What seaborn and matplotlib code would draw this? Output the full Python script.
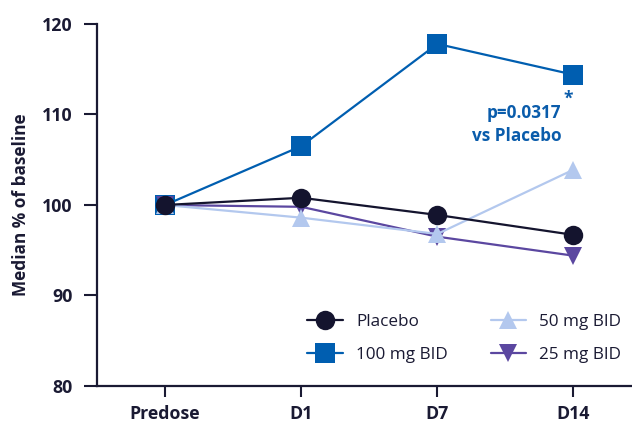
import matplotlib
matplotlib.use("Agg")
import matplotlib.pyplot as plt
import seaborn as sns
import pandas as pd
from matplotlib.lines import Line2D

# ---- data ----
timepoints = ["Predose", "D1", "D7", "D14"]
placebo = [100.0, 100.8, 98.9, 96.7]
mg100 = [100.0, 106.5, 117.8, 114.4]
mg50 = [100.0, 98.6, 96.8, 103.9]
mg25 = [100.0, 99.8, 96.5, 94.4]
series_names = ["Placebo", "100 mg BID", "50 mg BID", "25 mg BID"]
y_ticks = [80, 90, 100, 110, 120]
annotation_lines = ["*", "p=0.0317", "vs Placebo"]

colors = {"Placebo": "#14142e", "100 mg BID": "#005eb0",
          "50 mg BID": "#b3c8ee", "25 mg BID": "#5b47a0"}
markers = {"Placebo": "o", "100 mg BID": "s", "50 mg BID": "^", "25 mg BID": "v"}
msizes = {"Placebo": 14, "100 mg BID": 14, "50 mg BID": 13, "25 mg BID": 13}

values = {"Placebo": placebo, "100 mg BID": mg100, "50 mg BID": mg50, "25 mg BID": mg25}
rows = []
for name in series_names:
    for i, (t, v) in enumerate(zip(timepoints, values[name])):
        rows.append({"series": name, "pos": i, "time": t, "value": v})
df = pd.DataFrame(rows)

sns.set_theme(style="ticks")
plt.rcParams["font.family"] = ["Open Sans", "DejaVu Sans"]

fig = plt.figure(figsize=(6.32, 4.25), dpi=100)
ax = fig.add_axes([97/632, 1-386/425, 1-97/632, (386-24)/425])

axis_col = "#1a1a33"
draw_order = ["100 mg BID", "25 mg BID", "50 mg BID", "Placebo"]
for name in draw_order:
    sub = df[df["series"] == name]
    sns.lineplot(data=sub, x="pos", y="value", ax=ax, color=colors[name],
                 marker=markers[name], markersize=msizes[name],
                 markeredgewidth=0, linewidth=1.6, legend=False)

ax.set_xlim(-0.5, 3.43)
ax.set_ylim(80, 120)
ax.set_xticks(range(len(timepoints)))
ax.set_xticklabels(timepoints)
ax.set_yticks(y_ticks)
ax.set_xlabel("")
ax.set_ylabel("Median % of baseline", fontsize=12.4, fontweight="bold",
              color=axis_col, labelpad=9)
for lab in ax.get_xticklabels() + ax.get_yticklabels():
    lab.set_fontweight("bold")
    lab.set_fontsize(12.8)
    lab.set_color(axis_col)
ax.tick_params(axis="y", length=9.5, width=1.5, color=axis_col, pad=8)
ax.tick_params(axis="x", length=8, width=1.5, color=axis_col, pad=6)
sns.despine(ax=ax)
for s in ["left", "bottom"]:
    ax.spines[s].set_color(axis_col)
    ax.spines[s].set_linewidth(1.6)

# annotation
ax.text(3.0, 111.7, annotation_lines[0], ha="right", va="center",
        fontsize=12.5, fontweight="bold", color="#0a5cab")
ax.text(2.91, 108.9, annotation_lines[1] + "\n" + annotation_lines[2], ha="right",
        va="center", fontsize=12.3, fontweight="bold", color="#0a5cab",
        linespacing=1.3)

handles = [Line2D([], [], color=colors[n], marker=markers[n], markersize=msizes[n],
                  markeredgewidth=0, linewidth=1.6) for n in series_names]
leg = ax.legend(handles, series_names, ncol=2, frameon=False, fontsize=12.3,
                loc="upper left", bbox_to_anchor=(292/632, 1-299/425),
                bbox_transform=fig.transFigure, handlelength=2.1,
                columnspacing=2.5, labelspacing=0.97, handletextpad=0.75)
for t in leg.get_texts():
    t.set_color(axis_col)

fig.savefig("out.png", dpi=100)
